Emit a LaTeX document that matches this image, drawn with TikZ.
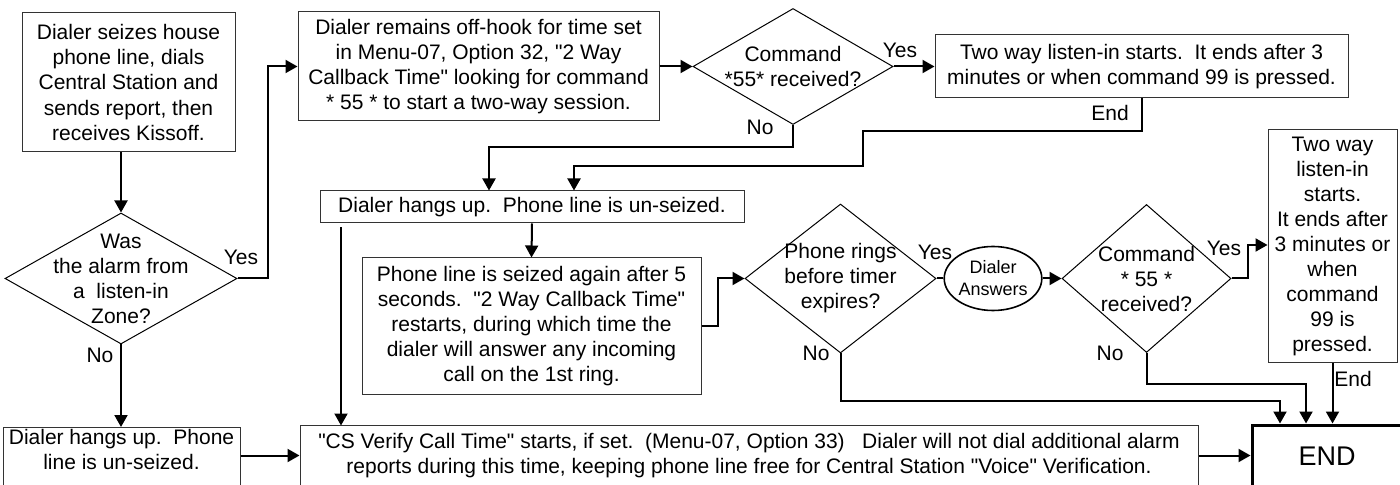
\documentclass[tikz,border=0pt]{standalone}
\usepackage{fontspec}
\setmainfont{Liberation Sans}[Ligatures=TeXOff]
\usetikzlibrary{arrows.meta,shapes.geometric}

\begin{document}
\begin{tikzpicture}[x=0.5pt,y=-0.5pt,
		every node/.style={font=\fontsize{10.5}{12.5}\selectfont, align=center, inner sep=0pt},
		box/.style={draw=black!80, line width=0.5pt, rectangle},
		choice/.style={draw, line width=0.5pt, diamond},
		flow/.style={line width=1pt, -{Triangle[length=6pt,width=6.5pt]}},
		link/.style={line width=1pt}
			]
	\useasboundingbox (0,0) rectangle (1400,485);
	\clip (0,0) rectangle (1400,485);

	\node[box, minimum width=106.5pt, minimum height=69.5pt] (seize) at (128.5,82.5) {Dialer seizes house\\phone line, dials\\Central Station and\\sends report, then\\receives Kissoff.};
	\node[box, minimum width=180.5pt, minimum height=54.5pt] (offhook) at (478.5,66.5) {Dialer remains off-hook for time set\\in Menu-07, Option 32, "2 Way\\Callback Time" looking for command\\* 55 * to start a two-way session.};
	\node[choice, minimum width=100pt, minimum height=58pt, label={center:{Command\\*55* received?}}] (cmdA) at (793,66.5) {};
	\node[box, minimum width=206.5pt, minimum height=31.5pt] (listenA) at (1141.5,66.5) {Two way listen-in starts.~~It ends after 3\\minutes or when command 99 is pressed.};

	\node[choice, minimum width=116pt, minimum height=65.5pt, label={center:{Was\\the alarm from\\a~~listen-in\\Zone?}}] (zone) at (121,278.5) {};
	\node[box, minimum width=212pt, minimum height=16pt] (hangB) at (532,207) {Dialer hangs up.~~Phone line is un-seized.};
	\node[box, minimum width=169.5pt, minimum height=68.5pt] (reseize) at (531.5,326.5) {Phone line is seized again after 5\\seconds.~~"2 Way Callback Time"\\restarts, during which time the\\dialer will answer any incoming\\call on the 1st ring.};
	\node[choice, minimum width=95.5pt, minimum height=74.5pt, label={center:{Phone rings\\before timer\\expires?}}] (rings) at (840.5,278.5) {};
	\node[draw, ellipse, line width=0.8pt, minimum width=48pt, minimum height=32pt, font=\fontsize{9}{11}\selectfont] (answers) at (993,278.5) {Dialer\\Answers};
	\node[choice, minimum width=84.5pt, minimum height=74pt, label={center:{Command\\* 55 *\\received?}}] (cmdB) at (1146.5,278.5) {};
	\node[box, minimum width=64.5pt, minimum height=116.5pt] (listenB) at (1332.5,246.5) {Two way\\listen-in\\starts.\\It ends after\\3 minutes or\\when\\command\\99 is\\pressed.};

	\node[box, anchor=north, minimum width=118.5pt, inner ysep=1pt, text depth=30pt] (hangA) at (121.5,427) {Dialer hangs up.~~Phone\\line is un-seized.};
	\node[box, minimum width=449pt, minimum height=30.5pt] (verify) at (749,455.5) {"CS Verify Call Time" starts, if set.~~(Menu-07, Option 33)~~~Dialer will not dial additional alarm\\reports during this time, keeping phone line free for Central Station "Voice" Verification.};
	\node[draw, line width=1.5pt, minimum width=75pt, minimum height=31pt, font=\fontsize{13.5}{16}\selectfont] (finish) at (1327,456) {END};

	\draw[flow] (zone.north |- seize.south) -- (zone.north);
	\draw[flow] (zone.east) -- ++(30,0) |- (offhook.west);
	\node (yesA) at (241,257) {Yes};
	\draw[flow] (zone.south) -- (zone.south |- hangA.north);
	\node (noA) at (100,355) {No};
	\draw[flow] (hangA.east |- verify.west) -- (verify.west);

	\draw[flow] (offhook.east) -- (cmdA.west);
	\draw[flow] (cmdA.east) -- (listenA.west);
	\node (yesB) at (900,50) {Yes};
	\draw[flow] (cmdA.south) -- ++(0,22) -| ([xshift=-21.5pt]hangB.north);
	\node (noB) at (760,127) {No};
	\draw[flow] (listenA.south) -- ++(0,33) -- ++(-278.5,0) -- ++(0,35) -| ([xshift=21pt]hangB.north);
	\node (endA) at (1110,113) {End};

	\draw[flow] (hangB.south) -- (reseize.north);
	\draw[flow] ([xshift=-95.5pt,yshift=-2pt]hangB.south) -- ++(0,198);
	\draw[flow] (reseize.east) -- ++(16,0) |- (rings.west);
	\draw[link] (rings.east) -- (answers.west);
	\node (yesC) at (935,252) {Yes};
	\draw[flow] (answers.east) -- (cmdB.west);
	\draw[flow] (cmdB.east) -- ++(16,0) |- ([yshift=0.75pt]listenB.west);
	\node (yesD) at (1224,248) {Yes};

	\draw[flow] (rings.south) -- ++(0,48) -| ([xshift=-23.5pt]finish.north);
	\node (noC) at (816,353) {No};
	\draw[flow] (cmdB.south) -- ++(0,31) -| ([xshift=-10.5pt]finish.north);
	\node (noD) at (1110,353) {No};
	\draw[flow] (listenB.south) -- (listenB.south |- finish.north);
	\node (endB) at (1353,379) {End};
	\draw[flow] (verify.east) -- (verify.east -| finish.west);
\end{tikzpicture}
\end{document}
